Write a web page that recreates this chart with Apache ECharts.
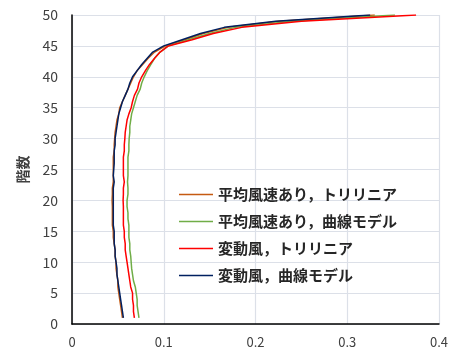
<!DOCTYPE html>
<html>
<head>
<meta charset="utf-8">
<script src="https://cdn.jsdelivr.net/npm/echarts@6/dist/echarts.min.js"></script>
<style>html,body{margin:0;padding:0;background:#fff;}#c{width:454px;height:353px;}</style>
</head>
<body>
<div id="c"></div>
<script>
var floors = [1,2,3,4,5,6,7,8,9,10,11,12,13,14,15,16,17,18,19,20,21,22,23,24,25,26,27,28,29,30,31,32,33,34,35,36,37,38,39,40,41,42,43,44,45,46,47,48,49,50];
var seriesNames = ['平均風速あり，トリリニア','平均風速あり，曲線モデル','変動風，トリリニア','変動風，曲線モデル'];
var avgTrilinear = [0.055,0.054,0.053,0.052,0.051,0.050,0.050,0.049,0.048,0.048,0.047,0.047,0.046,0.045,0.045,0.044,0.044,0.044,0.044,0.0437,0.044,0.044,0.045,0.045,0.045,0.045,0.045,0.046,0.046,0.0465,0.047,0.048,0.049,0.051,0.052,0.055,0.058,0.061,0.064,0.067,0.071,0.077,0.083,0.090,0.102,0.123,0.143,0.170,0.226,0.330];
var avgCurve = [0.073,0.072,0.071,0.071,0.070,0.069,0.067,0.066,0.065,0.0645,0.064,0.063,0.063,0.062,0.062,0.062,0.061,0.061,0.060,0.060,0.061,0.061,0.0605,0.061,0.061,0.061,0.061,0.062,0.062,0.0623,0.063,0.063,0.064,0.065,0.067,0.069,0.071,0.0743,0.076,0.0787,0.082,0.086,0.090,0.096,0.105,0.127,0.150,0.178,0.240,0.352];
var varTrilinear = [0.068,0.067,0.067,0.066,0.066,0.064,0.063,0.062,0.061,0.060,0.059,0.058,0.058,0.057,0.057,0.056,0.056,0.056,0.056,0.0557,0.056,0.056,0.057,0.056,0.056,0.056,0.056,0.057,0.057,0.0576,0.058,0.059,0.060,0.062,0.0645,0.066,0.068,0.0714,0.073,0.076,0.080,0.0845,0.090,0.096,0.105,0.131,0.154,0.185,0.250,0.375];
var varCurve = [0.056,0.055,0.054,0.053,0.052,0.051,0.050,0.049,0.049,0.048,0.047,0.047,0.046,0.046,0.046,0.045,0.045,0.045,0.045,0.045,0.045,0.045,0.046,0.045,0.0455,0.046,0.046,0.046,0.047,0.047,0.048,0.049,0.050,0.051,0.053,0.055,0.058,0.061,0.063,0.066,0.071,0.076,0.082,0.088,0.100,0.120,0.140,0.166,0.222,0.325];
var xTicks = [0,0.1,0.2,0.3,0.4];
var yTicks = [0,5,10,15,20,25,30,35,40,45,50];
var colors = ['#C55A11','#70AD47','#FF0000','#002060'];

function pairs(vals){ return vals.map(function(v,i){ return [v, floors[i]]; }); }
var allVals = [avgTrilinear, avgCurve, varTrilinear, varCurve];
var font = '"Noto Sans CJK JP", "Noto Sans", sans-serif';

var chart = echarts.init(document.getElementById('c'));
chart.setOption({
  animation: false,
  backgroundColor: '#fff',
  grid: {left: 72, right: 15, top: 15, bottom: 29, containLabel: false},
  xAxis: {
    type: 'value', min: xTicks[0], max: xTicks[xTicks.length-1], interval: 0.1,
    axisLine: {show: true, onZero: false, lineStyle: {color: '#000', width: 1.5}},
    axisTick: {show: false},
    axisLabel: {color: '#404040', fontSize: 13, margin: 12, fontFamily: font},
    splitLine: {show: true, lineStyle: {color: '#DCE0E8', width: 1.2}}
  },
  yAxis: {
    type: 'value', min: yTicks[0], max: yTicks[yTicks.length-1], interval: 5,
    name: '階数', nameLocation: 'middle', nameGap: 42, nameRotate: 90,
    nameTextStyle: {color: '#404040', fontSize: 14, fontWeight: 'bold', fontFamily: font},
    axisLine: {show: true, lineStyle: {color: '#000', width: 1.5}},
    axisTick: {show: false},
    axisLabel: {color: '#404040', fontSize: 14, margin: 14, fontFamily: font},
    splitLine: {show: true, lineStyle: {color: '#DCE0E8', width: 1.2}}
  },
  legend: {
    orient: 'vertical', left: 174, top: 182, itemWidth: 34, itemHeight: 12, itemGap: 12,
    icon: 'path://M0,5.25 L34,5.25 L34,6.75 L0,6.75 Z',
    data: seriesNames,
    textStyle: {color: '#262626', fontSize: 15, fontWeight: 'bold', fontFamily: font}
  },
  series: seriesNames.map(function(n, i){
    return {
      name: n, type: 'line', data: pairs(allVals[i]), symbol: 'none',
      lineStyle: {color: colors[i], width: 1.5}, itemStyle: {color: colors[i]}, z: 2 + i
    };
  })
});
</script>
</body>
</html>
